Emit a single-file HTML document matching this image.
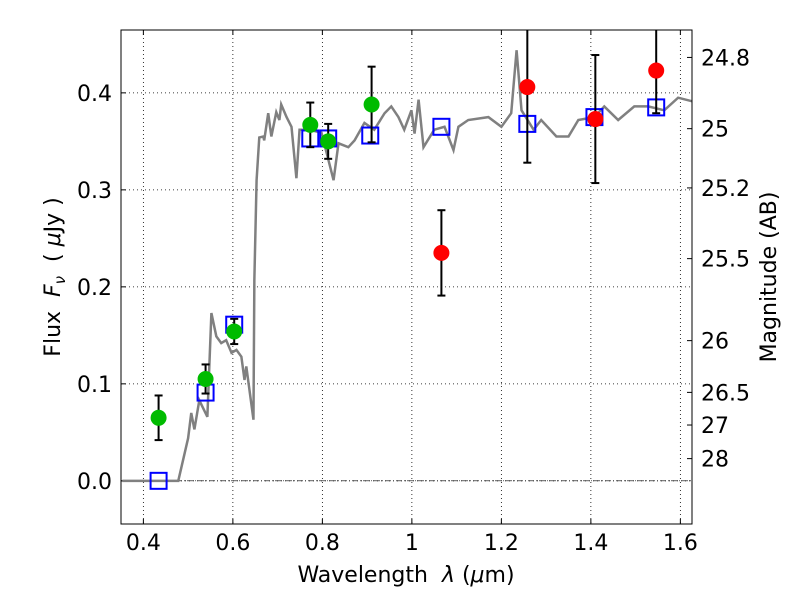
<!DOCTYPE html>
<html><head><meta charset="utf-8"><style>body{margin:0;background:#fff}svg{display:block;font-family:"DejaVu Sans","Liberation Sans",sans-serif}</style></head>
<body>
<svg id="c" width="800" height="600"></svg>
<script>
const specX=[0.353,0.478,0.500,0.507,0.514,0.525,0.543,0.552,0.563,0.574,0.585,0.597,0.608,0.619,0.626,0.630,0.646,0.648,0.653,0.659,0.668,0.670,0.679,0.686,0.697,0.704,0.708,0.720,0.731,0.742,0.749,0.769,0.798,0.825,0.836,0.858,0.872,0.894,0.916,0.939,0.954,0.970,0.983,0.999,1.006,1.015,1.026,1.050,1.073,1.093,1.104,1.126,1.171,1.200,1.222,1.234,1.245,1.272,1.289,1.323,1.350,1.372,1.408,1.430,1.461,1.497,1.528,1.564,1.595,1.629];
const specY=[0,0,0.044,0.070,0.053,0.083,0.066,0.173,0.149,0.142,0.145,0.132,0.135,0.128,0.104,0.118,0.063,0.207,0.310,0.354,0.355,0.351,0.379,0.355,0.380,0.372,0.388,0.375,0.365,0.312,0.362,0.362,0.359,0.310,0.348,0.344,0.351,0.369,0.362,0.379,0.386,0.375,0.362,0.382,0.358,0.393,0.344,0.362,0.365,0.341,0.365,0.372,0.375,0.365,0.379,0.444,0.382,0.362,0.372,0.355,0.355,0.372,0.375,0.386,0.372,0.386,0.386,0.382,0.395,0.391];
const greenX=[0.434,0.539,0.603,0.773,0.813,0.910];
const greenY=[0.065,0.105,0.154,0.367,0.350,0.388];
const greenErr=[0.023,0.015,0.013,0.023,0.018,0.039];
const redX=[1.066,1.258,1.410,1.546];
const redY=[0.235,0.406,0.373,0.423];
const redErr=[0.044,0.078,0.066,0.044];
const sqX=[0.434,0.539,0.603,0.773,0.813,0.907,1.066,1.258,1.408,1.546];
const sqY=[0,0.091,0.161,0.353,0.353,0.356,0.365,0.368,0.375,0.385];
const xTicks=[0.4,0.6,0.8,1.0,1.2,1.4,1.6];
const xTickLabels=["0.4","0.6","0.8","1","1.2","1.4","1.6"];
const yTicks=[0,0.1,0.2,0.3,0.4];
const yTickLabels=["0.0","0.1","0.2","0.3","0.4"];
const magTicks=[24.8,25,25.2,25.5,26,26.5,27,28];
const magLabels=["24.8","25","25.2","25.5","26","26.5","27","28"];

const L=121,R=692,T=30,B=524;
const x0=0.35,x1=1.626,y0=-0.0445,y1=0.4648;
const X=v=>L+(v-x0)/(x1-x0)*(R-L);
const Y=v=>B-(v-y0)/(y1-y0)*(B-T);
const svg=document.getElementById('c');
const NS='http://www.w3.org/2000/svg';
function mk(tag,at,parent){const e=document.createElementNS(NS,tag);for(const k in at)e.setAttribute(k,at[k]);(parent||svg).appendChild(e);return e;}
const defs=mk('defs',{});const cp=mk('clipPath',{id:'cp'},defs);mk('rect',{x:L,y:T,width:R-L,height:B-T},cp);
xTicks.forEach((t,i)=>{
 const g=mk('line',{x1:X(t),x2:X(t),y1:T,y2:B,stroke:'#000','stroke-width':0.8,'stroke-dasharray':'1,3'});
 
 mk('line',{x1:X(t),x2:X(t),y1:B,y2:B-5,stroke:'#000'});mk('line',{x1:X(t),x2:X(t),y1:T,y2:T+5,stroke:'#000'});
 const tx=mk('text',{x:X(t),y:B+26,'font-size':22,'text-anchor':'middle'});tx.textContent=xTickLabels[i];
 
});
yTicks.forEach((t,i)=>{
 const g=mk('line',{x1:L,x2:R,y1:Y(t),y2:Y(t),stroke:'#000','stroke-width':0.8,'stroke-dasharray':'1,3'});
 
 mk('line',{x1:L,x2:L+5,y1:Y(t),y2:Y(t),stroke:'#000'});
 const tx=mk('text',{x:L-9,y:Y(t)+8,'font-size':22,'text-anchor':'end'});tx.textContent=yTickLabels[i];
 
});
mk('line',{x1:L,x2:R,y1:Y(0),y2:Y(0),stroke:'#000','stroke-width':0.6,'stroke-dasharray':'6,2,1,2'});
magTicks.forEach((m,i)=>{
 const f=Math.pow(10,(23.9-m)/2.5);const y=Y(f);
 mk('line',{x1:R,x2:R-5,y1:y,y2:y,stroke:'#000'});
 const tx=mk('text',{x:R+9,y:y+8,'font-size':22});tx.textContent=magLabels[i];
 
});
const sp=mk('polyline',{points:specX.map((v,i)=>X(v)+','+Y(specY[i])).join(' '),fill:'none',stroke:'#808080','stroke-width':2.5,'clip-path':'url(#cp)'});

sqX.forEach((v,i)=>{const r=mk('rect',{x:X(v)-8,y:Y(sqY[i])-8,width:16,height:16,fill:'none',stroke:'#0000ff','stroke-width':2});
 });
function pts(xs,ys,es,col,name){xs.forEach((v,i)=>{
 const g=mk('g',{'clip-path':'url(#cp)'});
 
 const cx=X(v),ya=Y(ys[i]+es[i]),yb=Y(ys[i]-es[i]);
 mk('line',{x1:cx,x2:cx,y1:ya,y2:yb,stroke:'#000','stroke-width':2},g);
 mk('line',{x1:cx-4,x2:cx+4,y1:ya,y2:ya,stroke:'#000','stroke-width':2},g);
 mk('line',{x1:cx-4,x2:cx+4,y1:yb,y2:yb,stroke:'#000','stroke-width':2},g);
 mk('circle',{cx:cx,cy:Y(ys[i]),r:8,fill:col},g);
});}
pts(greenX,greenY,greenErr,'#00bb00','green-data-point');
pts(redX,redY,redErr,'#ff0000','red-data-point');
const fr=mk('rect',{x:L,y:T,width:R-L,height:B-T,fill:'none',stroke:'#000','stroke-width':1});

</script>
<svg width="800" height="600" style="position:absolute;left:0;top:0" xml:space="preserve">
<text x="406" y="582" font-size="22" text-anchor="middle" font-family="DejaVu Sans,sans-serif" xml:space="preserve">Wavelength  <tspan font-style="italic">λ</tspan> (<tspan font-style="italic">μ</tspan>m)</text>
<text transform="translate(60,277) rotate(-90)" font-size="22" text-anchor="middle" font-family="DejaVu Sans,sans-serif" xml:space="preserve">Flux  <tspan font-style="italic">F</tspan><tspan font-style="italic" font-size="15" dy="5">ν</tspan><tspan dy="-5">  ( <tspan font-style="italic">μ</tspan>Jy )</tspan></text>
<text transform="translate(776,277) rotate(-90)" font-size="22" text-anchor="middle" font-family="DejaVu Sans,sans-serif">Magnitude (AB)</text>
</svg>
</body></html>
